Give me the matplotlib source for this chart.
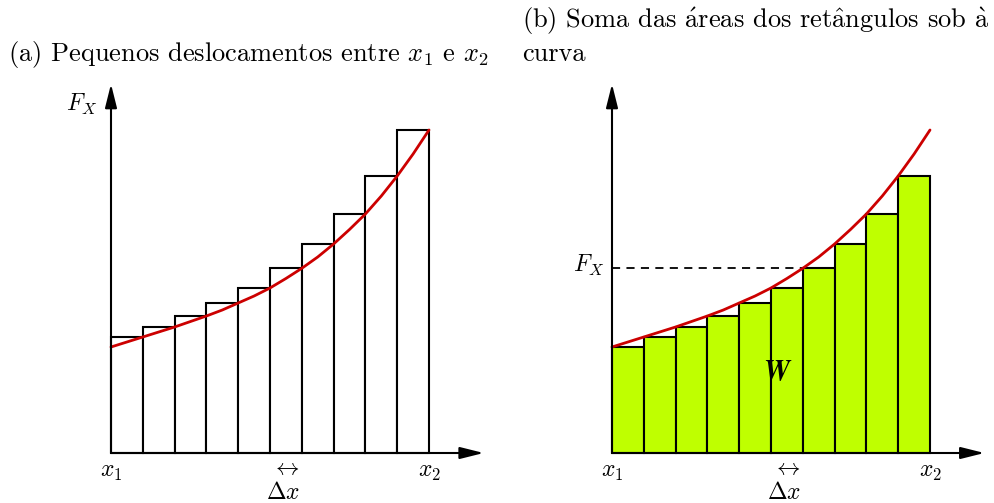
import matplotlib
matplotlib.use("Agg")
import matplotlib.pyplot as plt

plt.rcParams['mathtext.fontset'] = 'cm'
plt.rcParams['font.family'] = ['cmr10', 'DejaVu Serif']
plt.rcParams['axes.unicode_minus'] = False

# force curve F(x), sampled every half step between x1 and x2
curve_x = [0, 0.5, 1, 1.5, 2, 2.5, 3, 3.5, 4, 4.5, 5,
           5.5, 6, 6.5, 7, 7.5, 8, 8.5, 9, 9.5, 10]
curve_y = [1.06, 1.11, 1.16, 1.21, 1.26, 1.315, 1.37, 1.43, 1.50, 1.57, 1.65,
           1.745, 1.847, 1.96, 2.09, 2.235, 2.39, 2.57, 2.77, 2.99, 3.23]

# values at the partition points x1 .. x2
force = curve_y[::2]
n_steps = len(force) - 1
left_edges = list(range(n_steps))

heights_a = force[1:]    # right endpoint of each step
heights_b = force[:-1]   # left endpoint of each step

title_a = r"(a) Pequenos deslocamentos entre $x_1$ e $x_2$"
title_b = [r"(b) Soma das $\mathrm{\acute{a}}$reas dos ret$\mathrm{\hat{a}}$ngulos sob $\mathrm{\grave{a}}$",
           "curva"]

W, H = 995, 503
fig = plt.figure(figsize=(W / 100, H / 100), dpi=100)

PX_X = 31.8   # pixels per step
PX_Y = 100.0  # pixels per force unit
BASE_Y = 453


def make_axes(x0_px, left_px, right_px, bottom_px=500, top_px=70):
    ax = fig.add_axes([left_px / W, (H - bottom_px) / H,
                       (right_px - left_px) / W, (bottom_px - top_px) / H])
    ax.set_xlim((left_px - x0_px) / PX_X, (right_px - x0_px) / PX_X)
    ax.set_ylim((BASE_Y - bottom_px) / PX_Y, (BASE_Y - top_px) / PX_Y)
    ax.axis('off')
    return ax


def draw_frame(ax, x_tip, y_tip):
    arrow = dict(arrowstyle='-|>,head_length=0.8,head_width=0.2',
                 mutation_scale=18, lw=1.5, color='black',
                 shrinkA=0, shrinkB=0)
    ax.annotate('', xy=(x_tip, 0), xytext=(0, 0), arrowprops=arrow)
    ax.annotate('', xy=(0, y_tip), xytext=(0, 0), arrowprops=arrow)
    ax.text(0, -0.19, r'$x_1$', ha='center', va='center', fontsize=17)
    ax.text(n_steps, -0.19, r'$x_2$', ha='center', va='center', fontsize=17)
    ax.text(5.47, -0.15, r'$\leftrightarrow$', ha='center', va='center', fontsize=17)
    ax.text(5.4, -0.40, r'$\Delta x$', ha='center', va='center', fontsize=17)


# (a) rectangles touching the curve at their right corners
ax_a = make_axes(111, 60, 490)
ax_a.bar(left_edges, heights_a, width=1, align='edge', color='white',
         edgecolor='black', lw=1.5, zorder=2)
ax_a.plot(curve_x, curve_y, color='#cc0000', lw=2, zorder=3,
          solid_capstyle='round', solid_joinstyle='round')
draw_frame(ax_a, 11.72, 3.69)
ax_a.text(-0.92, 3.49, r'$F_X$', ha='center', va='center', fontsize=17)

# (b) rectangles touching the curve at their left corners
ax_b = make_axes(612, 560, 990)
ax_b.bar(left_edges, heights_b, width=1, align='edge', color='#bfff00',
         edgecolor='black', lw=1.5, zorder=2)
ax_b.plot(curve_x, curve_y, color='#cc0000', lw=2, zorder=3,
          solid_capstyle='round', solid_joinstyle='round')
ax_b.hlines(force[6], 0, 6, colors='black', lw=1.3,
            linestyles=(0, (4.5, 3.5)), zorder=1)
draw_frame(ax_b, 11.71, 3.69)
ax_b.text(-0.72, 1.88, r'$F_X$', ha='center', va='center', fontsize=17)
ax_b.text(5.2, 0.8, r'$\boldsymbol{W}$', ha='center', va='center',
          fontsize=21, zorder=4)

fig.text(8 / W, 1 - 55 / H, title_a, ha='left', va='center', fontsize=19)
fig.text(522 / W, 1 - 21 / H, title_b[0], ha='left', va='center', fontsize=19)
fig.text(522 / W, 1 - 54 / H, title_b[1], ha='left', va='center', fontsize=19)

fig.savefig('out.png', dpi=100)
